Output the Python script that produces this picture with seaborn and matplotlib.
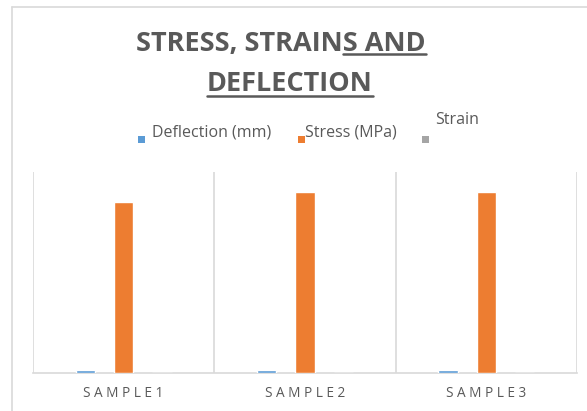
import matplotlib
matplotlib.use("Agg")
import matplotlib.pyplot as plt
import seaborn as sns
import pandas as pd
from matplotlib.patches import Rectangle
from matplotlib.lines import Line2D

samples = ["SAMPLE1", "SAMPLE2", "SAMPLE3"]
series = ["Deflection (mm)", "Stress (MPa)", "Strain"]
deflection = [1.8, 1.5, 1.5]
stress = [102.0, 108.0, 108.0]
strain = [0.0, 0.0, 0.0]
colors = ["#5B9BD5", "#ED7D31", "#A5A5A5"]
title_line1_plain = "STRESS, STRAIN"
title_line1_under = "S AND"
title_line2 = "DEFLECTION"

df = pd.DataFrame({
    "sample": samples * 3,
    "series": [series[0]] * 3 + [series[1]] * 3 + [series[2]] * 3,
    "value": deflection + stress + strain,
})

sns.set_theme(style="white")
plt.rcParams["font.family"] = ["Open Sans", "DejaVu Sans"]
TXT = "#595959"
GRID = "#D9D9D9"

fig = plt.figure(figsize=(5.87, 4.11), dpi=100)
ax = fig.add_axes([33 / 587, 38 / 411, 544 / 587, 201 / 411])
sns.barplot(data=df, x="sample", y="value", hue="series", palette=colors,
            width=0.635, gap=0.5, ax=ax, legend=False, saturation=1)
for p in ax.patches:
    p.set_zorder(3)
ax.set_xlim(-0.5, 2.5)
ax.set_ylim(0, 120)
for xv in [-0.5, 0.5, 1.5, 2.5]:
    ax.axvline(xv, color=GRID, lw=1.2, zorder=0)
for s in ["top", "right", "left"]:
    ax.spines[s].set_visible(False)
ax.spines["bottom"].set_color(GRID)
ax.spines["bottom"].set_linewidth(1.2)
ax.spines["bottom"].set_zorder(1)
ax.set_yticks([])
ax.set_xlabel("")
ax.set_ylabel("")
ax.set_xticks(range(len(samples)))
ax.set_xticklabels([" ".join(s[:-1]) + " " + s[-1] for s in samples], color=TXT, fontsize=9.8)
ax.tick_params(axis="x", length=0, pad=9)

# chart frame
fig.add_artist(Line2D([12 / 587, 12 / 587], [0, 1 - 7 / 411], color=GRID, lw=1.2))
fig.add_artist(Line2D([12 / 587, 1], [1 - 7 / 411, 1 - 7 / 411], color=GRID, lw=1.2))

# title
fig.canvas.draw()
r = fig.canvas.get_renderer()
tsize = 19.5
full1 = title_line1_plain + title_line1_under
t1 = fig.text(281 / 587, 1 - 51 / 411, full1, ha="center", va="baseline",
              fontsize=tsize, fontweight="bold", color=TXT)
t2 = fig.text(290 / 587, 1 - 91 / 411, title_line2, ha="center", va="baseline",
              fontsize=tsize, fontweight="bold", color=TXT)
tmp = fig.text(0, 0, title_line1_plain, fontsize=tsize, fontweight="bold")
w_plain = tmp.get_window_extent(r).width
tmp.remove()
b1 = t1.get_window_extent(r)
b2 = t2.get_window_extent(r)
W, H = fig.bbox.width, fig.bbox.height
y_u1 = (411 - 54) / 411
y_u2 = (411 - 96) / 411
fig.add_artist(Line2D([(b1.x0 + w_plain) / W, b1.x1 / W], [y_u1, y_u1], color=TXT, lw=1.8))
fig.add_artist(Line2D([b2.x0 / W, b2.x1 / W], [y_u2, y_u2], color=TXT, lw=1.8))

# legend
leg_items = [(138, 152, 136), (298, 305, 136), (422, 435, 124)]
for (sx, tx, ty), lab, c in zip(leg_items, series, colors):
    fig.add_artist(Rectangle((sx / 587, 1 - 143 / 411), 7 / 587, 7 / 411,
                             transform=fig.transFigure, color=c, lw=0))
    fig.text(tx / 587, 1 - ty / 411, lab, ha="left", va="baseline",
             fontsize=11.5, color=TXT)

fig.savefig("out.png", dpi=100)
